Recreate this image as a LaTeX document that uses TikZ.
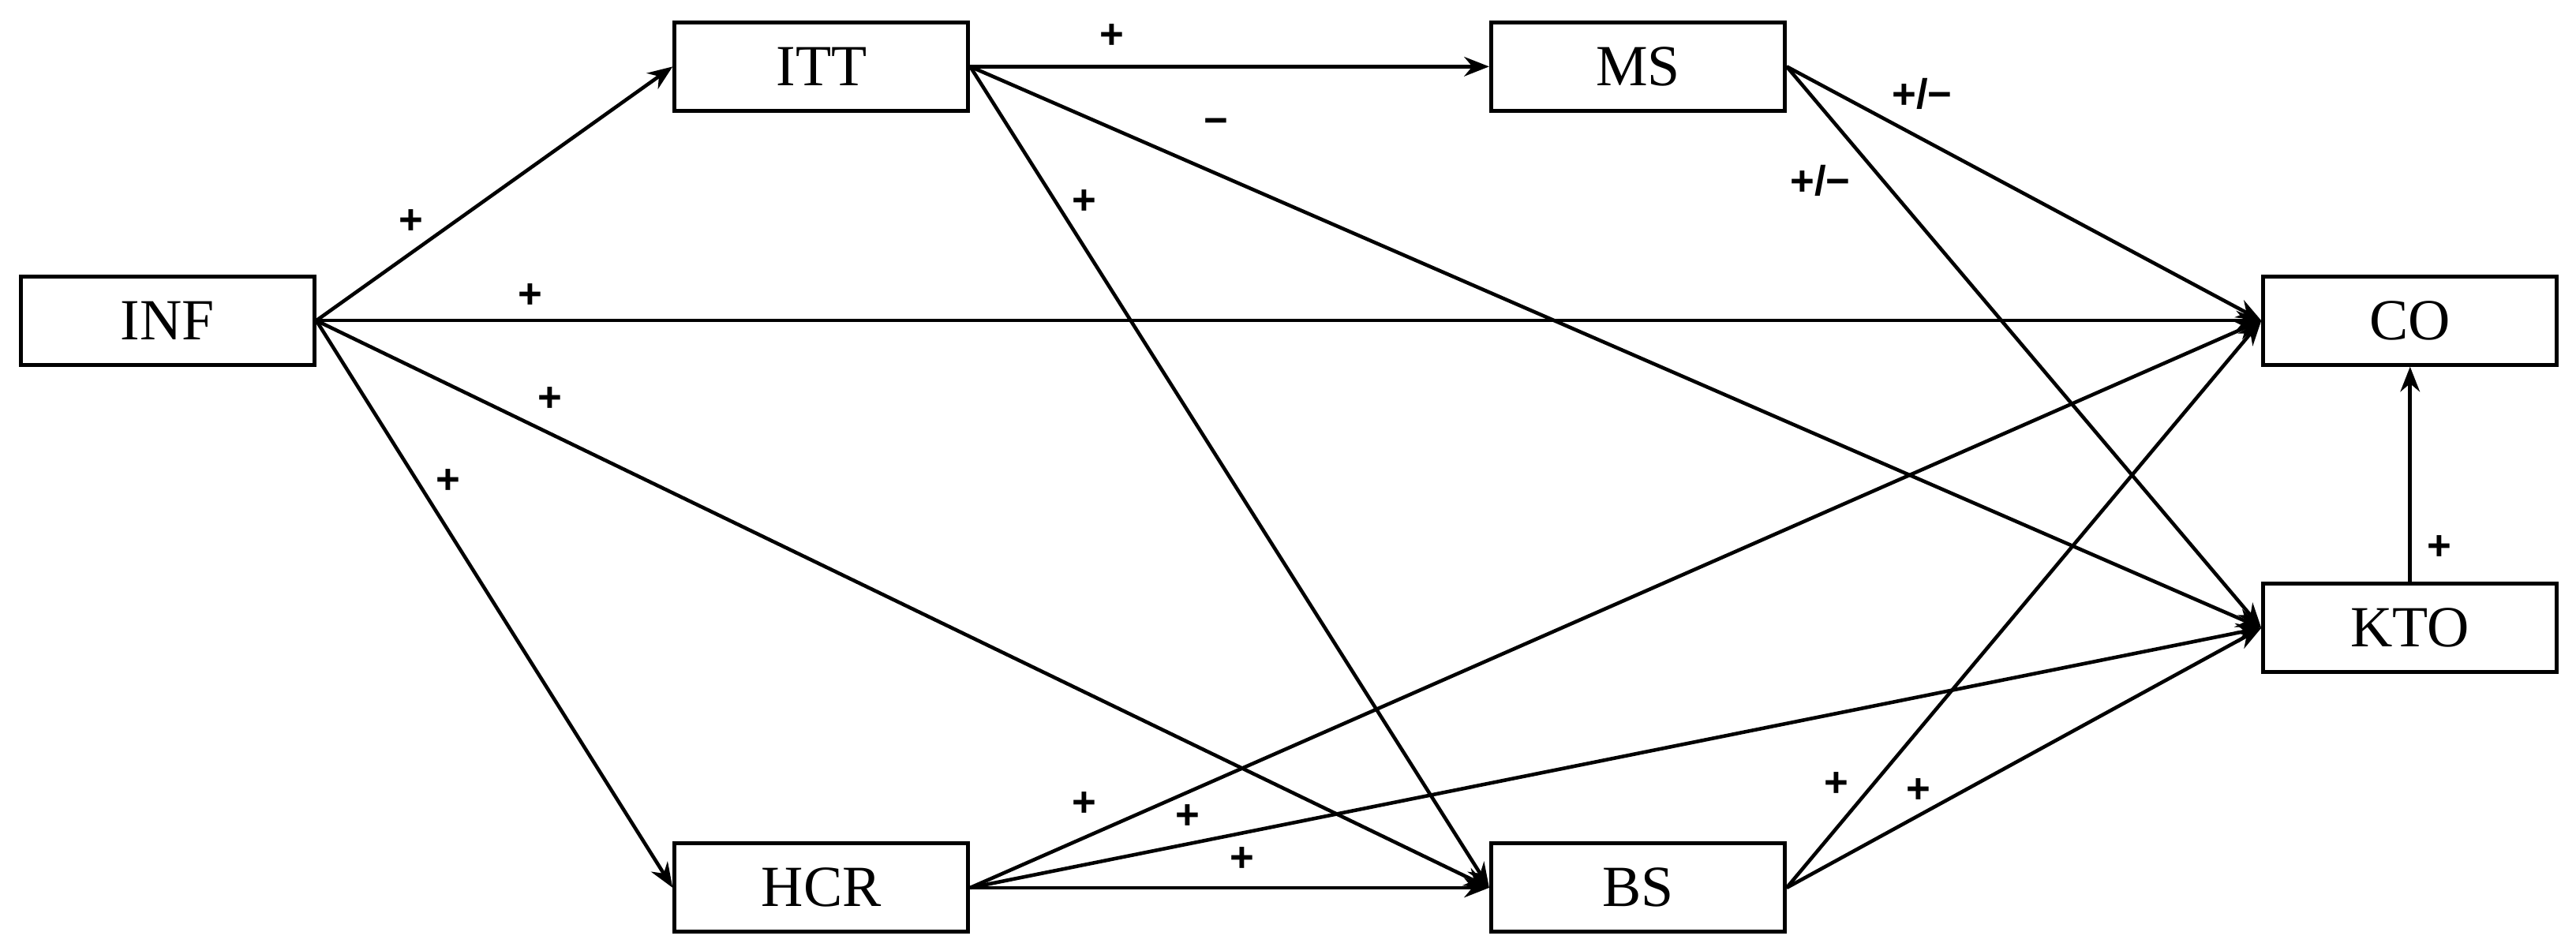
\documentclass[tikz,border=0pt]{standalone}
\usepackage{fontspec}
\setmainfont{Liberation Serif}
\newfontfamily\lblfont{Liberation Sans}
\usetikzlibrary{arrows.meta}
\begin{document}
\begin{tikzpicture}[x=0.020816cm,y=-0.020833cm,
  box/.style={draw,line width=1.4pt,minimum width=3.72cm,minimum height=1.12cm,inner sep=0pt,font=\fontsize{21}{25}\selectfont},
  arr/.style={line width=1.3pt,-{Stealth[length=9pt,width=7pt]}},
  lbl/.style={font=\lblfont\bfseries\fontsize{15}{18}\selectfont,inner sep=0pt}]
\useasboundingbox (0,0) rectangle (1568,576);
\node[box] (ITT) at (500,40.5) {ITT};
\node[box] (MS) at (997,40.5) {MS};
\node[box] (INF) at (102,195) {INF};
\node[box] (CO) at (1467,195) {CO};
\node[box] (KTO) at (1467,382) {KTO};
\node[box] (HCR) at (500,540) {HCR};
\node[box] (BS) at (997,540) {BS};
\draw[arr] (INF.east) -- (ITT.west);
\draw[arr] (INF.east) -- (CO.west);
\draw[arr] (INF.east) -- (BS.west);
\draw[arr] (INF.east) -- (HCR.west);
\draw[arr] (ITT.east) -- (MS.west);
\draw[arr] (ITT.east) -- (KTO.west);
\draw[arr] (ITT.east) -- (BS.west);
\draw[arr] (MS.east) -- (CO.west);
\draw[arr] (MS.east) -- (KTO.west);
\draw[arr] (HCR.east) -- (CO.west);
\draw[arr] (HCR.east) -- (KTO.west);
\draw[arr] (HCR.east) -- (BS.west);
\draw[arr] (BS.east) -- (CO.west);
\draw[arr] (BS.east) -- (KTO.west);
\draw[arr] (KTO.north) -- (CO.south);
\node[lbl] (l1) at (250,135) {+};
\node[lbl] (l2) at (323,180) {+};
\node[lbl] (l3) at (335,243) {+};
\node[lbl] (l4) at (273,293) {+};
\node[lbl] (l5) at (677,22) {+};
\node[lbl] (l6) at (740,77) {\textminus};
\node[lbl] (l7) at (660,123) {+};
\node[lbl] (l8) at (1170,57) {+/\textminus};
\node[lbl] (l9) at (1108,110) {+/\textminus};
\node[lbl] (l10) at (660,489) {+};
\node[lbl] (l11) at (723,497) {+};
\node[lbl] (l12) at (756,523) {+};
\node[lbl] (l13) at (1118,477) {+};
\node[lbl] (l14) at (1168,481) {+};
\node[lbl] (l15) at (1485,333) {+};
\end{tikzpicture}
\end{document}
